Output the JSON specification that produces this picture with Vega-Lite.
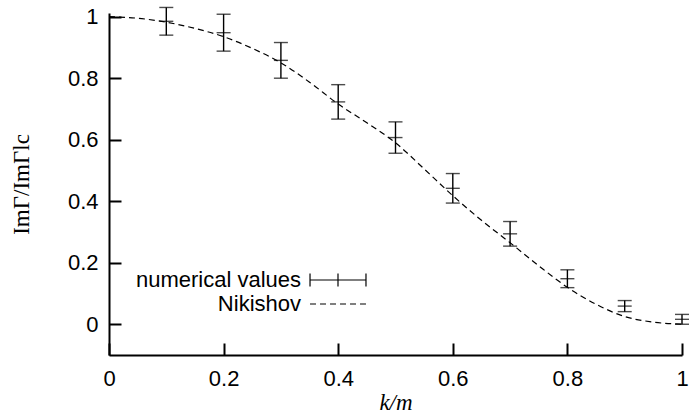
{
  "$schema": "https://vega.github.io/schema/vega-lite/v6.json",
  "width": 573,
  "height": 342,
  "autosize": {"type": "none"},
  "padding": {"left": 109, "top": 13, "right": 9, "bottom": 64},
  "background": "white",
  "config": {
    "view": {"stroke": null},
    "font": "Liberation Sans",
    "axis": {
      "domain": true,
      "domainColor": "black",
      "domainWidth": 2,
      "ticks": true,
      "tickColor": "black",
      "tickWidth": 2,
      "tickSize": -12,
      "tickOpacity": 1,
      "zindex": 1,
      "grid": false,
      "labelFont": "Liberation Sans",
      "labelFontSize": 22,
      "labelColor": "black",
      "titleFont": "Liberation Serif",
      "titleFontSize": 23,
      "titleFontWeight": "normal",
      "titleColor": "black"
    }
  },
  "datasets": {
    "points": [
      {"k": 0.1, "v": 0.985, "err": 0.045, "series": "numerical values"},
      {"k": 0.2, "v": 0.948, "err": 0.06, "series": "numerical values"},
      {"k": 0.3, "v": 0.858, "err": 0.058, "series": "numerical values"},
      {"k": 0.4, "v": 0.723, "err": 0.056, "series": "numerical values"},
      {"k": 0.5, "v": 0.607, "err": 0.051, "series": "numerical values"},
      {"k": 0.6, "v": 0.442, "err": 0.048, "series": "numerical values"},
      {"k": 0.7, "v": 0.294, "err": 0.04, "series": "numerical values"},
      {"k": 0.8, "v": 0.148, "err": 0.029, "series": "numerical values"},
      {"k": 0.9, "v": 0.059, "err": 0.018, "series": "numerical values"},
      {"k": 1.0, "v": 0.016, "err": 0.016, "series": "numerical values"}
    ],
    "curve": [
      {"k": 0.0, "v": 1.0, "series": "Nikishov"},
      {"k": 0.05, "v": 0.995, "series": "Nikishov"},
      {"k": 0.1, "v": 0.982, "series": "Nikishov"},
      {"k": 0.15, "v": 0.962, "series": "Nikishov"},
      {"k": 0.2, "v": 0.935, "series": "Nikishov"},
      {"k": 0.25, "v": 0.897, "series": "Nikishov"},
      {"k": 0.3, "v": 0.85, "series": "Nikishov"},
      {"k": 0.35, "v": 0.787, "series": "Nikishov"},
      {"k": 0.4, "v": 0.716, "series": "Nikishov"},
      {"k": 0.45, "v": 0.655, "series": "Nikishov"},
      {"k": 0.5, "v": 0.59, "series": "Nikishov"},
      {"k": 0.55, "v": 0.505, "series": "Nikishov"},
      {"k": 0.6, "v": 0.418, "series": "Nikishov"},
      {"k": 0.65, "v": 0.338, "series": "Nikishov"},
      {"k": 0.7, "v": 0.265, "series": "Nikishov"},
      {"k": 0.75, "v": 0.19, "series": "Nikishov"},
      {"k": 0.8, "v": 0.12, "series": "Nikishov"},
      {"k": 0.85, "v": 0.065, "series": "Nikishov"},
      {"k": 0.9, "v": 0.025, "series": "Nikishov"},
      {"k": 0.95, "v": 0.007, "series": "Nikishov"},
      {"k": 1.0, "v": 0.0, "series": "Nikishov"}
    ]
  },
  "encoding": {
    "x": {
      "field": "k",
      "type": "quantitative",
      "scale": {"domain": [0, 1], "nice": false, "zero": false},
      "axis": {"title": "k/m", "titleFontStyle": "italic", "values": [0, 0.2, 0.4, 0.6, 0.8, 1], "format": "~g", "labelPadding": 25, "titlePadding": 2, "labelFlush": false}
    },
    "y": {
      "field": "v",
      "type": "quantitative",
      "scale": {"domain": [-0.1, 1.012], "nice": false, "zero": false},
      "axis": {"title": "ImΓ/ImΓlc", "values": [0, 0.2, 0.4, 0.6, 0.8, 1], "format": "~g", "labelPadding": 23, "titlePadding": 34, "labelFlush": false}
    }
  },
  "layer": [
    {
      "mark": {"type": "rule", "strokeDash": [2, 3], "strokeWidth": 1, "color": "black"},
      "encoding": {"y": {"datum": 1}, "x": null}
    },
    {
      "mark": {"type": "rule", "strokeWidth": 2, "color": "black"},
      "encoding": {"y": {"datum": 0}, "x": null}
    },
    {
      "data": {"name": "curve"},
      "mark": {"type": "line", "strokeDash": [6, 4], "strokeWidth": 1.2, "interpolate": "monotone", "clip": false},
      "encoding": {
        "color": {"field": "series", "type": "nominal", "scale": {"domain": ["numerical values", "Nikishov"], "range": ["black", "black"]},
          "legend": {
            "orient": "none", "legendX": 218, "legendY": 256, "title": null, "padding": 0,
            "labelFont": "Liberation Sans", "labelFontSize": 22, "labelColor": "black", "labelLimit": 400,
            "labelAlign": "right", "labelOffset": -48, "rowPadding": 2,
            "symbolSize": 348, "symbolStrokeWidth": 1.2,
            "encode": {"symbols": {"update": {
              "shape": {"signal": "datum.value === 'Nikishov' ? 'M-3,0L3,0' : 'M-3,-0.7L-3,0.7M-3,0L3,0M3,-0.7L3,0.7M0,-0.7L0,0.7'"},
              "strokeDash": {"signal": "datum.value === 'Nikishov' ? [6,4] : [1,0]"},
              "stroke": {"value": "black"},
              "fill": {"value": "transparent"},
              "size": {"value": 348},
              "strokeWidth": {"value": 1.2}
            }}}
          }
        }
      }
    },
    {
      "data": {"name": "points"},
      "mark": {"type": "errorbar", "ticks": {"size": 14, "thickness": 1.4}, "thickness": 1.4, "clip": false},
      "encoding": {
        "yError": {"field": "err"},
        "color": {"field": "series", "type": "nominal"}
      }
    },
    {
      "data": {"name": "points"},
      "mark": {"type": "tick", "orient": "horizontal", "size": 14, "thickness": 1.4, "color": "black"}
    }
  ]
}
